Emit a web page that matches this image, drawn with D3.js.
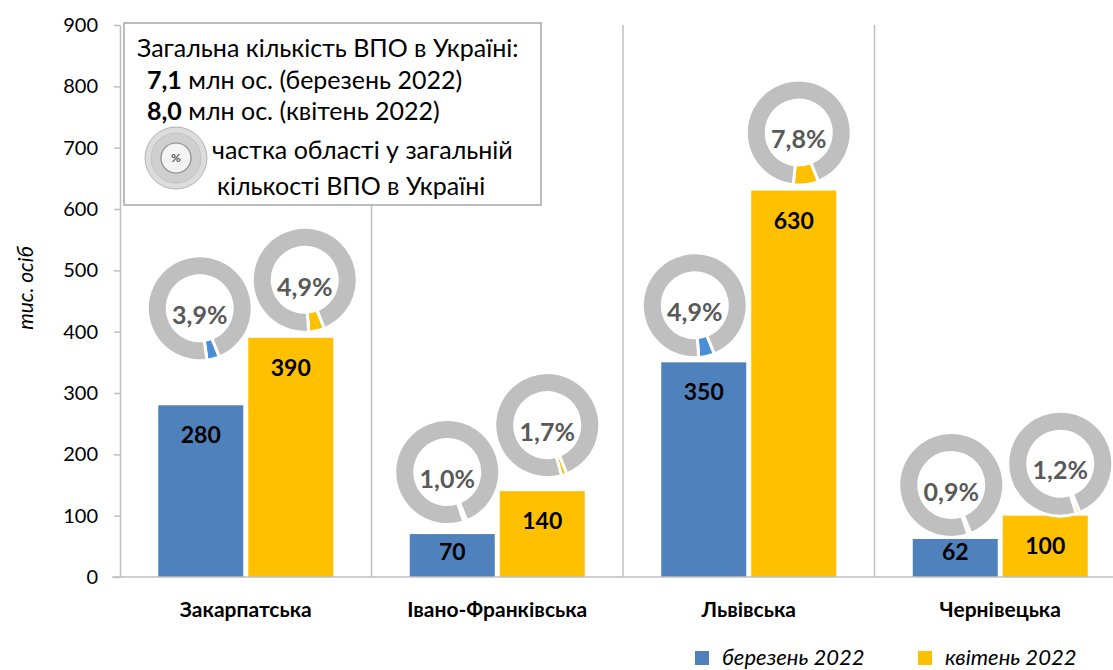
<!DOCTYPE html>
<html><head><meta charset="utf-8">
<script src="https://cdn.jsdelivr.net/npm/d3@7"></script>
<style>
html,body{margin:0;padding:0;background:#fff;}
svg{display:block;font-family:Lato,"Noto Sans",sans-serif;}
</style></head>
<body>
<svg id="chart" width="1113" height="670"></svg>
<script>
// ---- data ----
const categories = ["Закарпатська", "Івано-Франківська", "Львівська", "Чернівецька"];
const seriesNames = ["березень 2022", "квітень 2022"];
const marchValues = [280, 70, 350, 62];
const aprilValues = [390, 140, 630, 100];
const marchShare = [3.9, 1.0, 4.9, 0.9];
const aprilShare = [4.9, 1.7, 7.8, 1.2];
const yTicks = [0, 100, 200, 300, 400, 500, 600, 700, 800, 900];
const yTitle = "тис. осіб";
const boxLines = ["Загальна кількість ВПО в Україні:"];
const totals = [{v: "7,1", t: " млн ос. (березень 2022)"}, {v: "8,0", t: " млн ос. (квітень 2022)"}];
const shareNote = ["частка області у загальній", "кількості ВПО в Україні"];

// ---- layout (pixel offsets of share donuts from their bar: dx, rise above bar top) ----
const donutLayout = [
  [[-1, 97], [14, 58]],
  [[-5, 62], [5, 66]],
  [[-9, 57], [5, 58]],
  [[-4, 54], [15, 52]]
];
const colors = ["#4f81bd", "#ffc000"];
const sliceColors = ["#4a8fd6", "#ffc000"];

const svg = d3.select("#chart");
const W = 1113, H = 670;
svg.append("rect").attr("width", W).attr("height", H).attr("fill", "#fff");

const x0 = d3.scaleBand().domain(categories).range([120, 1126]).paddingInner(0).paddingOuter(0);
const x1 = d3.scaleBand().domain(seriesNames).range([38.25, 213.25]).paddingInner(0.0556).paddingOuter(0);
const y = d3.scaleLinear().domain([0, 900]).range([577, 25]);

// vertical separators
const seps = categories.slice(1).map(c => x0(c));
svg.append("g").selectAll("line").data(seps).join("line")
  .attr("x1", d => d).attr("x2", d => d).attr("y1", y(900)).attr("y2", y(0))
  .attr("stroke", "#bfbfbf").attr("stroke-width", 1.5);

// y axis
const yAxis = d3.axisLeft(y).tickValues(yTicks).tickSize(6).tickPadding(16).tickSizeOuter(0);
const gy = svg.append("g").attr("transform", "translate(120,0)").call(yAxis);
gy.select(".domain").attr("stroke", "#bfbfbf").attr("stroke-width", 1.5);
gy.selectAll(".tick line").attr("stroke", "#bfbfbf").attr("stroke-width", 1.5);
gy.selectAll(".tick text").attr("font-size", 20).attr("fill", "#000").attr("font-family", "Lato, 'Noto Sans', sans-serif");

// y title
svg.append("text").attr("transform", "translate(33,288) rotate(-90)")
  .attr("text-anchor", "middle").attr("font-size", 21).attr("font-style", "italic")
  .attr("fill", "#000").text(yTitle);

// bars
const rows = categories.map((c, i) => ({c, vals: [marchValues[i], aprilValues[i]], shares: [marchShare[i], aprilShare[i]], i}));
const gBars = svg.append("g");
rows.forEach(r => {
  r.vals.forEach((v, s) => {
    const bx = x0(r.c) + x1(seriesNames[s]);
    gBars.append("rect").attr("x", bx).attr("y", y(v)).attr("width", x1.bandwidth())
      .attr("height", y(0) - y(v)).attr("fill", colors[s]);
  });
});

// x axis line
svg.append("line").attr("x1", 112).attr("x2", W).attr("y1", y(0)).attr("y2", y(0))
  .attr("stroke", "#bfbfbf").attr("stroke-width", 1.5);

// category labels
svg.append("g").selectAll("text").data(categories).join("text")
  .attr("x", d => x0(d) + x0.bandwidth() / 2).attr("y", 617)
  .attr("text-anchor", "middle").attr("font-size", 21).attr("font-weight", "bold")
  .attr("fill", "#000").text(d => d);

// donuts
const pie = d3.pie().sort(null).value(d => d);
const startA = 158 * Math.PI / 180;
pie.startAngle(startA).endAngle(startA + 2 * Math.PI);
const arc = d3.arc().innerRadius(32.5).outerRadius(52.5);
const gD = svg.append("g");
rows.forEach(r => {
  r.shares.forEach((sh, s) => {
    const v = r.vals[s];
    const bc = x0(r.c) + x1(seriesNames[s]) + x1.bandwidth() / 2;
    const [dx, rise] = donutLayout[r.i][s];
    const cx = bc + dx, cy = y(v) - rise;
    const g = gD.append("g").attr("transform", `translate(${cx},${cy})`);
    g.selectAll("path").data(pie([sh, 100 - sh])).join("path")
      .attr("d", arc).attr("fill", (d, k) => k === 0 ? sliceColors[s] : "#bfbfbf")
      .attr("stroke", "#fff").attr("stroke-width", 3);
    g.append("text").attr("x", 0).attr("y", 7).attr("dy", "0.35em")
      .attr("text-anchor", "middle").attr("font-size", 25).attr("font-weight", "bold")
      .attr("fill", "#595959").text(d3.format(".1f")(sh).replace(".", ",") + "%");
  });
});

// bar value labels
rows.forEach(r => {
  r.vals.forEach((v, s) => {
    const bc = x0(r.c) + x1(seriesNames[s]) + x1.bandwidth() / 2;
    const ly = Math.min(y(v) + 30, y(0) - 25);
    svg.append("text").attr("x", bc).attr("y", ly).attr("dy", "0.35em")
      .attr("text-anchor", "middle").attr("font-size", 23).attr("font-weight", "bold")
      .attr("fill", "#000").text(v);
  });
});

// info box
const box = svg.append("g");
box.append("rect").attr("x", 124).attr("y", 23).attr("width", 417).attr("height", 182)
  .attr("fill", "#fff").attr("stroke", "#a6a6a6").attr("stroke-width", 1.5);
box.append("text").attr("x", 137).attr("y", 57).attr("font-size", 25).attr("fill", "#000").text(boxLines[0]);
totals.forEach((t, k) => {
  const tx = box.append("text").attr("x", 147).attr("y", 89 + k * 31).attr("font-size", 25).attr("fill", "#000");
  tx.append("tspan").attr("font-weight", "bold").text(t.v);
  tx.append("tspan").text(t.t);
});
shareNote.forEach((t, k) => {
  box.append("text").attr("x", k === 0 ? 212 : 217).attr("y", 159 + k * 36).attr("font-size", 25).attr("fill", "#000").text(t);
});
// icon
const ic = box.append("g").attr("transform", "translate(176,158)");
ic.append("circle").attr("r", 31).attr("fill", "#dcdcdc").attr("stroke", "#b5b5b5").attr("stroke-width", 1);
ic.append("circle").attr("r", 25).attr("fill", "#cfcfcf").attr("stroke", "#c4c4c4").attr("stroke-width", 1);
ic.append("circle").attr("r", 15).attr("fill", "#f4f4f4").attr("stroke", "#8c8c8c").attr("stroke-width", 1.2);
ic.append("text").attr("text-anchor", "middle").attr("dy", "0.35em").attr("font-size", 12)
  .attr("font-weight", "bold").attr("fill", "#555").text("%");

// legend
const lg = svg.append("g");
const legX = [695, 918];
seriesNames.forEach((n, s) => {
  lg.append("rect").attr("x", legX[s]).attr("y", 651).attr("width", 14).attr("height", 14).attr("fill", colors[s]);
  lg.append("text").attr("x", legX[s] + 27).attr("y", 665).attr("font-size", 22)
    .attr("font-style", "italic").attr("fill", "#000").text(n);
});
</script>
</body></html>
